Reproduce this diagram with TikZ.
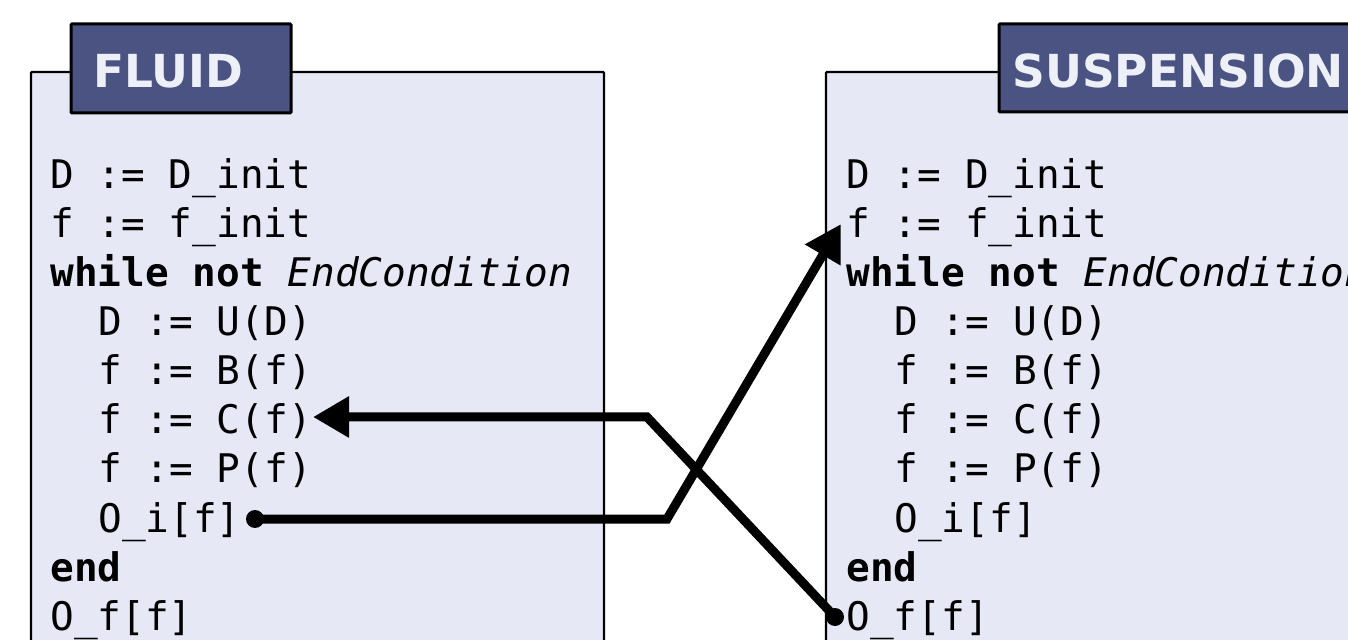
\documentclass[tikz,border=0pt]{standalone}
\usepackage{fontspec}
\setmainfont{DejaVu Sans}
\setmonofont{DejaVu Sans Mono}
\usetikzlibrary{arrows.meta}
\definecolor{panelfill}{HTML}{E6E9F5}
\definecolor{tabfill}{HTML}{4A5382}
\definecolor{tabtext}{HTML}{EEF0F8}
\begin{document}
\begin{tikzpicture}[x=0.5pt,y=-0.5pt,
  panel/.style={draw=black,fill=panelfill,line width=1.1pt,rounded corners=0.5pt},
  tabbox/.style={draw=black,fill=tabfill,line width=1.5pt,rounded corners=0.5pt},
  tabtitle/.style={anchor=base west,inner sep=0pt,text=tabtext,
    font=\bfseries\fontsize{22.75}{26}\selectfont},
  code/.style={anchor=base west,inner sep=0pt,
    font=\ttfamily\fontsize{19.7}{24}\selectfont},
  wire/.style={line width=4.5pt},
  tip/.style={-{Triangle[length=18pt,width=19.5pt]}},
  dot/.style={circle,fill=black,inner sep=0pt,minimum size=9pt}]
\useasboundingbox (0,0) rectangle (1348,640);
\clip (0,0) rectangle (1348,640);

% panels
\draw[panel] (31,72) rectangle (604,720);
\draw[panel] (826,72) rectangle (1420,720);
\draw[tabbox] (71,24) rectangle (291,113);
\draw[tabbox] (999,24) rectangle (1420,112);
\node[tabtitle] (tfluid) at (93,88) {FLUID};
\node[tabtitle] (tsusp) at (1012,88) {SUSPENSION};

% fluid solver loop
\node[code] (lD)  at (50,189) {D := D\_init};
\node[code] (lF)  at (50,238) {f := f\_init};
\node[code] (lW)  at (50,287) {\textbf{while not} \textit{EndCondition}};
\node[code] (lU)  at (98,336) {D := U(D)};
\node[code] (lB)  at (98,385) {f := B(f)};
\node[code] (lC)  at (98,434) {f := C(f)};
\node[code] (lP)  at (98,483) {f := P(f)};
\node[code] (lOi) at (98,532) {O\_i[f]};
\node[code] (lE)  at (50,581) {\textbf{end}};
\node[code] (lOf) at (50,630) {O\_f[f]};

% suspension solver loop
\node[code] (rD)  at (846,189) {D := D\_init};
\node[code] (rF)  at (846,238) {f := f\_init};
\node[code] (rW)  at (846,287) {\textbf{while not} \textit{EndCondition}};
\node[code] (rU)  at (894,336) {D := U(D)};
\node[code] (rB)  at (894,385) {f := B(f)};
\node[code] (rC)  at (894,434) {f := C(f)};
\node[code] (rP)  at (894,483) {f := P(f)};
\node[code] (rOi) at (894,532) {O\_i[f]};
\node[code] (rE)  at (846,581) {\textbf{end}};
\node[code] (rOf) at (846,630) {O\_f[f]};

% coupling wires
\node[dot] (dotOi) at (255,519) {};
\node[dot] (dotOf) at (835,617) {};
\coordinate (inF) at (841,224);
\coordinate (inC) at (313,417);
\coordinate (bendA) at (667,519);
\coordinate (bendB) at (647,417);
\draw[wire,tip] (dotOi.center) -- (bendA) -- (inF);
\draw[wire,tip] (dotOf.center) -- (bendB) -- (inC);
\end{tikzpicture}
\end{document}
